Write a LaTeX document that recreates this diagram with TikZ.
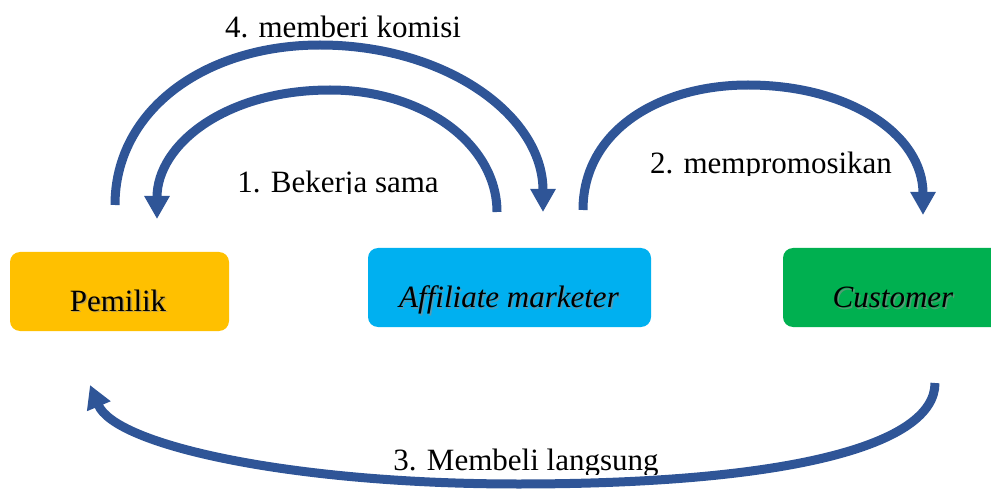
\documentclass[tikz,border=0pt]{standalone}
\usepackage{fontspec}
\setmainfont{Liberation Serif}
\usetikzlibrary{arrows.meta}
\definecolor{flow}{HTML}{2F5597}
\definecolor{owner}{HTML}{FFC000}
\definecolor{affil}{HTML}{00B0F0}
\definecolor{cust}{HTML}{00B050}
\tikzset{
  box/.style={draw=none, rounded corners=10pt, inner sep=0pt},
  flowarrow/.style={draw=flow, line width=9pt,
    -{Triangle[width=24pt,length=23pt]}},
  lbl/.style={font=\fontsize{31}{36}\selectfont, anchor=base, inner sep=0pt},
  shade/.style={lbl, text=black!45, opacity=0.6},
}
\newcommand{\boxlabel}[3]{%
  \node[shade] at ([xshift=1.5pt,yshift=-1.5pt]#1) {#3};
  \node[lbl] (#2) at (#1) {#3};}
\begin{document}
\begin{tikzpicture}[x=1pt,y=-1pt]
\useasboundingbox (0,0) rectangle (991,489);

% the three parties
\node[box, fill=owner, minimum width=219pt, minimum height=79pt] (pemilik) at (119.5,291.5) {};
\node[box, fill=affil, minimum width=283pt, minimum height=79pt] (affiliate) at (509.5,287.5) {};
\node[box, fill=cust, minimum width=220pt, minimum height=79pt] (customer) at (893,287.5) {};

\coordinate (tp) at (118,311);
\coordinate (ta) at (509,308);
\coordinate (tc) at (893,308);
\boxlabel{tp}{tpemilik}{Pemilik}
\boxlabel{ta}{taffiliate}{\itshape Affiliate marketer}
\boxlabel{tc}{tcustomer}{\itshape Customer}

% arrow end points above and below the boxes
\coordinate (p4) at (115,205);
\coordinate (a4) at (543,212);
\coordinate (a1) at (497,212);
\coordinate (p1) at (157,219);
\coordinate (a2) at (583,210);
\coordinate (c2) at (923,215);
\coordinate (c3) at (935,383);
\coordinate (p3) at (90,385);

% 4. commission: owner -> affiliate
\draw[flowarrow] (p4) .. controls (115,110) and (205,45) .. (320,45)
  .. controls (445,45) and (543,115) .. (a4);
% 1. cooperation: affiliate -> owner
\draw[flowarrow] (a1) .. controls (497,145) and (425,90) .. (330,90)
  .. controls (225,90) and (157,145) .. (p1);
% 2. promotion: affiliate -> customer
\draw[flowarrow] (a2) .. controls (583,130) and (660,85) .. (748,85)
  .. controls (850,85) and (923,135) .. (c2);
% 3. direct purchase: customer -> owner
\draw[flowarrow] (c3) .. controls (935,445) and (790,484) .. (518,484)
  .. controls (290,484) and (115,445) .. (p3);

% step labels
\node[lbl] (l4) at (343,38) {4. memberi komisi};
\begin{scope}
  \clip (200,150) rectangle (480,194);
  \node[lbl] (l1) at (338,193) {1. Bekerja sama};
\end{scope}
\begin{scope}
  \clip (630,130) rectangle (910,176);
  \node[lbl] (l2) at (771,174) {2. mempromosikan};
\end{scope}
\begin{scope}
  \clip (380,430) rectangle (680,474);
  \node[lbl] (l3) at (526,470) {3. Membeli langsung};
\end{scope}
\end{tikzpicture}
\end{document}
